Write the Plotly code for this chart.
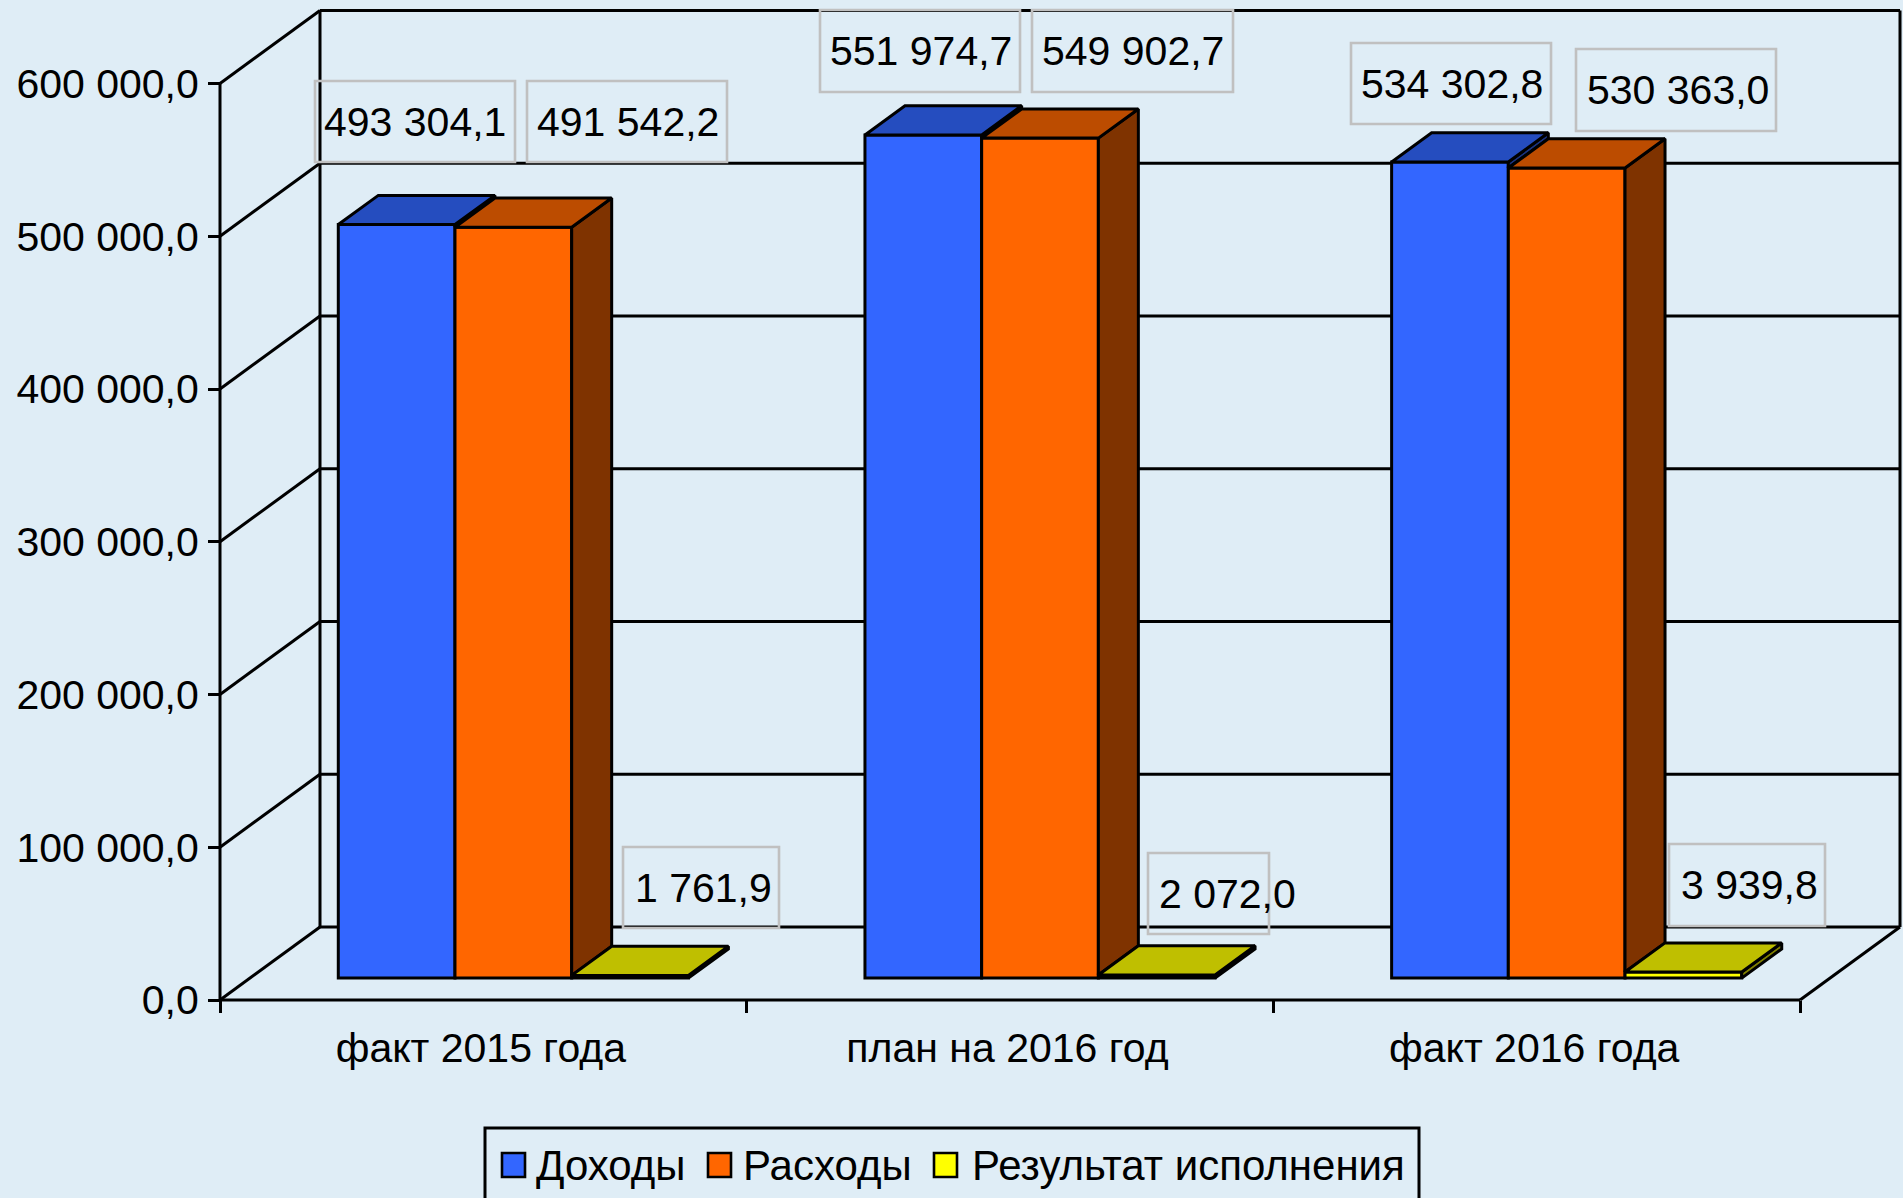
import plotly.graph_objects as go

categories = ["факт 2015 года", "план на 2016 год", "факт 2016 года"]
series_names = ["Доходы", "Расходы", "Результат исполнения"]
dohody = [493304.1, 551974.7, 534302.8]
rashody = [491542.2, 549902.7, 530363.0]
rezultat = [1761.9, 2072.0, 3939.8]
y_ticks = [0, 100000, 200000, 300000, 400000, 500000, 600000]

W, H = 1903, 1198
BG = "#DFEDF6"
LW = 3
FONT = "Liberation Sans"
FONT_SIZE = 41

# pixel position of the axis origin and pixel scales
X0, Y0 = 220, 1000
PX_PER_CAT = 526.67
PX_PER_UNIT = 152.75 / 100000

# fake 3d: how far the back wall is pushed, in axis units
DEPTH_X = 100 / PX_PER_CAT
DEPTH_Y = 73 / PX_PER_UNIT
BAR_W = 116.7 / PX_PER_CAT
BAR_FRONT = 0.3
BAR_DEPTH = 0.40

front_colors = ["#3366FF", "#FF6600", "#FFFF00"]
top_colors = ["#254DBF", "#BC4C00", "#BFBF00"]
side_colors = ["#1A3380", "#7F3300", "#808000"]

# label boxes in pixels: left, right, top, bottom, text centre
label_boxes = [
    [(315, 515, 81, 162, 415), (820, 1020, 10, 92, 921), (1351, 1551, 43, 124, 1452)],
    [(527, 727, 81, 162, 628), (1032, 1233, 10, 92, 1133), (1576, 1776, 49, 131, 1678)],
    [(623, 779, 847, 928, 703), (1148, 1269, 853, 934, 1227), (1669, 1825, 844, 926, 1749)],
]
legend_items = [(502, 534.5), (708, 742), (934, 971)]


def fmt(v):
    return f"{v:,.1f}".replace(",", " ").replace(".", ",")


def paper_x(px):
    return px / W


def paper_y(py):
    return 1 - py / H


def frame_line(x0, y0, x1, y1):
    return dict(type="line", xref="x", yref="y", x0=x0, y0=y0, x1=x1, y1=y1,
                layer="below", line=dict(color="black", width=LW))


def face(xs, ys, color):
    return go.Scatter(x=xs, y=ys, mode="lines", fill="toself", fillcolor=color,
                      line=dict(color="black", width=LW), hoverinfo="skip",
                      showlegend=False, cliponaxis=False)


fig = go.Figure()

values = [dohody, rashody, rezultat]
base = BAR_FRONT * DEPTH_Y
dx = BAR_DEPTH * DEPTH_X
dy = BAR_DEPTH * DEPTH_Y

for s, vals in enumerate(values):
    lefts = [i + 0.5 + (s - 1.5) * BAR_W + BAR_FRONT * DEPTH_X for i in range(len(vals))]
    fig.add_trace(go.Bar(
        x=[l + BAR_W / 2 for l in lefts],
        y=vals,
        base=base,
        width=BAR_W,
        name=series_names[s],
        marker=dict(color=front_colors[s], line=dict(color="black", width=LW)),
        showlegend=False,
    ))

# top and side faces. bars always sit under scatter traces, so a side face only
# gets drawn for the part that sticks out above the next bar in the group
for s, vals in enumerate(values):
    for i, v in enumerate(vals):
        xl = i + 0.5 + (s - 1.5) * BAR_W + BAR_FRONT * DEPTH_X
        xr = xl + BAR_W
        top = base + v
        low = base + (values[s + 1][i] if s + 1 < len(values) else 0)
        if low < top:
            fig.add_trace(face([xr, xr + dx, xr + dx, xr, xr],
                               [low, low + dy, top + dy, top, low], side_colors[s]))
        fig.add_trace(face([xl, xl + dx, xr + dx, xr, xl],
                           [top, top + dy, top + dy, top, top], top_colors[s]))

shapes = []
n = len(categories)
for t in y_ticks:
    shapes.append(frame_line(0, t, DEPTH_X, t + DEPTH_Y))
    shapes.append(frame_line(DEPTH_X, t + DEPTH_Y, n + DEPTH_X, t + DEPTH_Y))
shapes.append(frame_line(0, 0, 0, y_ticks[-1]))
shapes.append(frame_line(0, 0, n, 0))
shapes.append(frame_line(n, 0, n + DEPTH_X, DEPTH_Y))
shapes.append(frame_line(DEPTH_X, DEPTH_Y, DEPTH_X, y_ticks[-1] + DEPTH_Y))
shapes.append(frame_line(n + DEPTH_X, DEPTH_Y, n + DEPTH_X, y_ticks[-1] + DEPTH_Y))

# legend box runs off the bottom of the page, like in the original
shapes.append(dict(type="rect", xref="paper", yref="paper",
                   x0=paper_x(485), x1=paper_x(1419), y0=paper_y(1230), y1=paper_y(1128),
                   line=dict(color="black", width=3)))

annotations = []
for s, vals in enumerate(values):
    for i, v in enumerate(vals):
        left, right, top, bottom, text_x = label_boxes[s][i]
        # box is a shape: an annotation with a fixed width would cut "2 072,0"
        shapes.append(dict(type="rect", xref="paper", yref="paper",
                           x0=paper_x(left), x1=paper_x(right),
                           y0=paper_y(bottom), y1=paper_y(top),
                           line=dict(color="#C0C0C0", width=2.6)))
        annotations.append(dict(
            text=fmt(v), xref="paper", yref="paper",
            x=paper_x(text_x), y=paper_y((top + bottom) / 2),
            xanchor="center", yanchor="middle", showarrow=False,
            font=dict(family=FONT, size=FONT_SIZE, color="black"),
        ))

for s, (sw_x, text_x) in enumerate(legend_items):
    shapes.append(dict(type="rect", xref="paper", yref="paper",
                       x0=paper_x(sw_x), x1=paper_x(sw_x + 23),
                       y0=paper_y(1177), y1=paper_y(1153),
                       fillcolor=front_colors[s], line=dict(color="black", width=2.6)))
    annotations.append(dict(
        text=series_names[s], xref="paper", yref="paper",
        x=paper_x(text_x), y=paper_y(1165), xanchor="left", yanchor="middle",
        showarrow=False, borderpad=0,
        font=dict(family=FONT, size=42, color="black"),
    ))

fig.update_layout(
    width=W,
    height=H,
    margin=dict(l=0, r=0, t=0, b=0),
    paper_bgcolor=BG,
    plot_bgcolor=BG,
    barmode="overlay",
    showlegend=False,
    shapes=shapes,
    annotations=annotations,
    font=dict(family=FONT, size=FONT_SIZE, color="black"),
)

fig.update_xaxes(
    domain=[0, 1],
    range=[-X0 / PX_PER_CAT, (W - X0) / PX_PER_CAT],
    anchor="free",
    position=1 - Y0 / H,
    showgrid=False,
    zeroline=False,
    showline=False,
    tickmode="array",
    tickvals=[i + 0.5 - 2.5 / PX_PER_CAT for i in range(n)],
    ticktext=categories,
    ticks="",
    ticklabelstandoff=20,
    minor=dict(tickmode="array", tickvals=list(range(n + 1)), ticks="outside",
               ticklen=12, tickwidth=LW, tickcolor="black", showgrid=False),
)
fig.update_yaxes(
    domain=[0, 1],
    range=[-(H - Y0) / PX_PER_UNIT, Y0 / PX_PER_UNIT],
    anchor="free",
    position=X0 / W,
    showgrid=False,
    zeroline=False,
    showline=False,
    tickmode="array",
    tickvals=y_ticks,
    ticktext=[fmt(t) for t in y_ticks],
    ticks="outside",
    ticklen=12,
    tickwidth=LW,
    tickcolor="black",
    ticklabelstandoff=1,
)

fig.write_html("out.html", config=dict(displayModeBar=False),
               post_script="document.body.style.margin='0';document.body.style.overflow='hidden';")
